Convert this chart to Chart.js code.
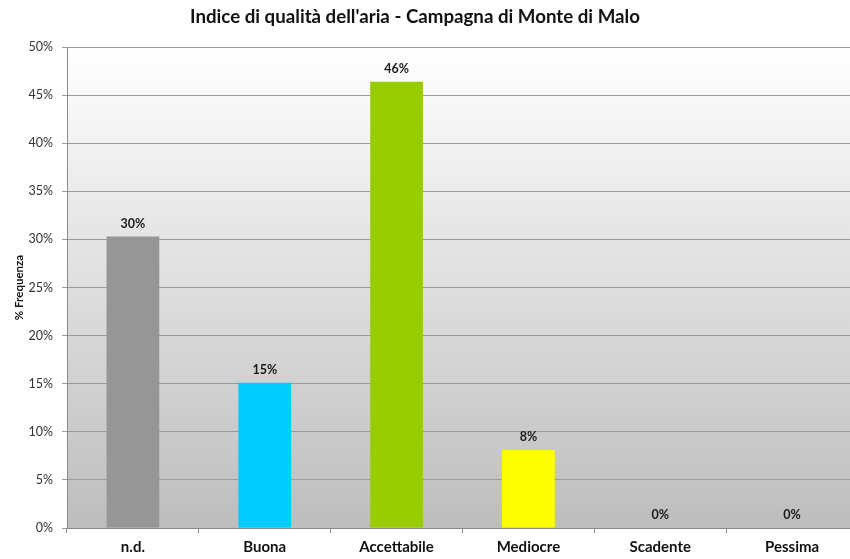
<!DOCTYPE html>
<html>
<head>
<meta charset="utf-8">
<title>Indice di qualità dell'aria</title>
<script src="https://cdn.jsdelivr.net/npm/chart.js@4.4.0/dist/chart.umd.min.js"></script>
<style>
  html, body { margin: 0; padding: 0; background: #fff; overflow: hidden; }
  #wrap { position: relative; width: 850px; height: 559px; overflow: hidden; }
  #chartBox { position: absolute; left: 0; top: 0; width: 870px; height: 559px; }
  #titolo {
    position: absolute; top: 5px; left: 0; width: 830px;
    text-align: center; font: bold 18.7px Lato, sans-serif; color: #111;
  }
</style>
</head>
<body>
<div id="wrap">
  <div id="chartBox"><canvas id="myChart"></canvas></div>
  <div id="titolo">Indice di qualità dell'aria - Campagna di Monte di Malo</div>
</div>
<script>
const categorie = ["n.d.", "Buona", "Accettabile", "Mediocre", "Scadente", "Pessima"];
const frequenza = [30.3, 15.1, 46.4, 8.1, 0, 0];
const colori = ["#969696", "#00ccff", "#99cc00", "#ffff00", "#ff9900", "#ff0000"];
const yTicks = [0, 5, 10, 15, 20, 25, 30, 35, 40, 45, 50];

const FONT = "Lato, sans-serif";

// grey gradient behind the plot area
const plotBackground = {
  id: "plotBackground",
  beforeDraw(chart) {
    const { ctx, chartArea: a } = chart;
    const g = ctx.createLinearGradient(0, a.top, 0, a.bottom);
    g.addColorStop(0, "#ffffff");
    g.addColorStop(1, "#bdbdbd");
    ctx.save();
    ctx.fillStyle = g;
    ctx.fillRect(a.left, a.top, a.right - a.left, a.bottom - a.top);
    ctx.restore();
  }
};

// percentage written above each bar
const barLabels = {
  id: "barLabels",
  afterDatasetsDraw(chart) {
    const ctx = chart.ctx;
    const meta = chart.getDatasetMeta(0);
    ctx.save();
    ctx.font = "bold 12.5px " + FONT;
    ctx.fillStyle = "#1a1a1a";
    ctx.textAlign = "center";
    ctx.textBaseline = "alphabetic";
    meta.data.forEach((bar, i) => {
      ctx.fillText(Math.round(frequenza[i]) + "%", bar.x, bar.y - 9);
    });
    ctx.restore();
  }
};

const myChart = new Chart("myChart", {
  type: "bar",
  data: {
    labels: categorie,
    datasets: [
      {
        data: frequenza,
        backgroundColor: colori,
        borderWidth: 0,
        categoryPercentage: 1,
        barPercentage: 0.4
      }
    ]
  },
  options: {
    responsive: true,
    maintainAspectRatio: false,
    animation: false,
    layout: { padding: { top: 47, right: 12, left: 0, bottom: 0 } },
    plugins: {
      legend: { display: false },
      tooltip: { enabled: false }
    },
    scales: {
      x: {
        grid: {
          offset: true,
          drawOnChartArea: false,
          drawTicks: true,
          tickLength: 5,
          color: "#8a8a8a"
        },
        border: { color: "#8a8a8a" },
        ticks: {
          font: { family: FONT, size: 15, weight: "bold" },
          color: "#111",
          padding: 5,
          maxRotation: 0
        },
        afterFit: (scale) => { scale.height = 31; }
      },
      y: {
        min: 0,
        max: 50,
        afterBuildTicks: (scale) => { scale.ticks = yTicks.map((v) => ({ value: v })); },
        ticks: {
          callback: (v) => v + "%",
          font: { family: FONT, size: 12.5 },
          color: "#333",
          padding: 9
        },
        grid: { color: "#9a9a9a", tickLength: 5 },
        border: { color: "#8a8a8a" },
        title: {
          display: true,
          text: "% Frequenza",
          font: { family: FONT, size: 11.5, weight: "bold" },
          color: "#111",
          padding: { top: 12, bottom: 0 }
        },
        afterFit: (scale) => { scale.width = 67; }
      }
    }
  },
  plugins: [plotBackground, barLabels]
});
</script>
</body>
</html>
